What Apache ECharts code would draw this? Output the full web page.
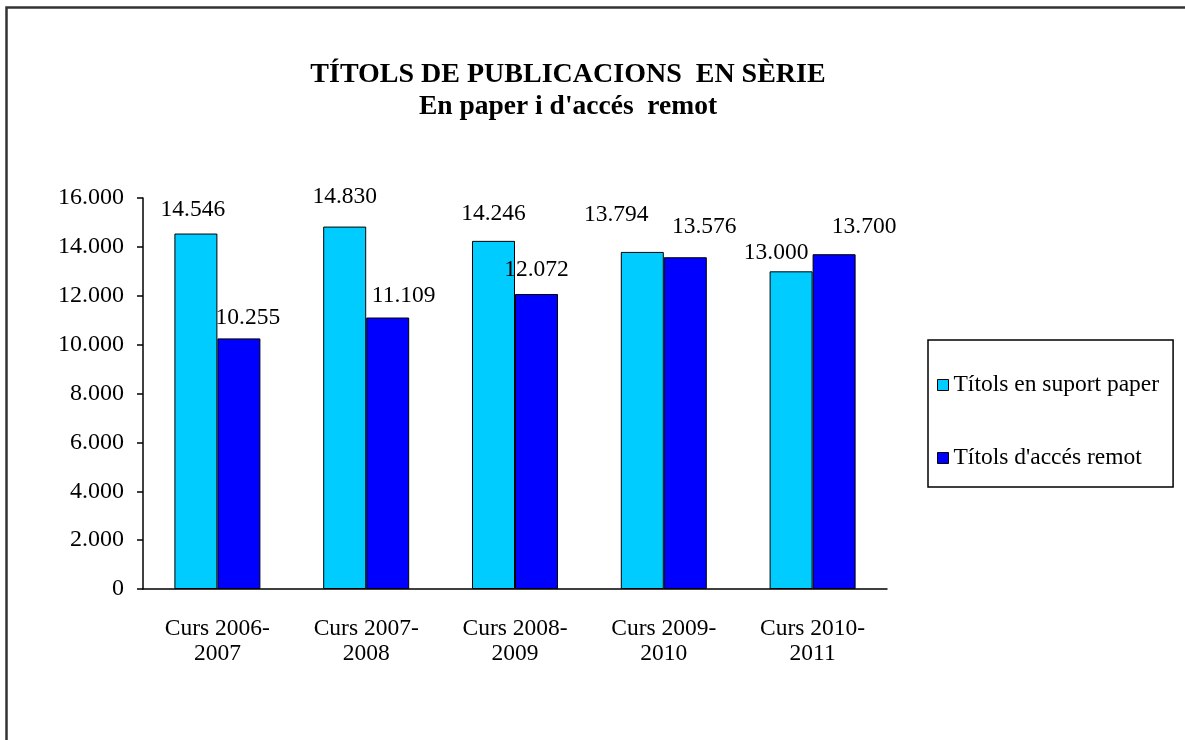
<!DOCTYPE html>
<html>
<head>
<meta charset="utf-8">
<script src="https://cdn.jsdelivr.net/npm/echarts@6/dist/echarts.min.js"></script>
<style>
    html, body { margin: 0; padding: 0; background: #fff; }
    #chart { width: 1185px; height: 740px; }
</style>
</head>
<body>
<div id="chart"></div>
<script>
    // dades llegides del gràfic
    const categories = ['Curs 2006-2007', 'Curs 2007-2008', 'Curs 2008-2009', 'Curs 2009-2010', 'Curs 2010-2011'];
    const paperValues = [14546, 14830, 14246, 13794, 13000];
    const remoteValues = [10255, 11109, 12072, 13576, 13700];
    const seriesNames = ['Títols en suport paper', "Títols d'accés remot"];
    const yTicks = [0, 2000, 4000, 6000, 8000, 10000, 12000, 14000, 16000];

    // petits desplaçaments de les etiquetes (col·locades a mà a l'original)
    const paperShift = [[-3, -7], [0, -13], [0, -10], [-26, -20], [-15, -1]];
    const remoteShift = [[9, -4], [16, -5], [0, -7], [19, -13], [30, -10]];

    const serif = '"Liberation Serif", "DejaVu Serif", serif';
    const fmt = v => String(v).replace(/\B(?=(\d{3})+(?!\d))/g, '.');

    function makeData(values, shift) {
        return values.map((v, i) => ({
            value: v,
            label: { offset: shift[i] }
        }));
    }

    let chart = echarts.init(document.getElementById('chart'));
    chart.setOption({
        backgroundColor: '#fff',
        animation: false,
        graphic: [{
            type: 'rect',
            shape: { x: 6.5, y: 7.5, width: 1400, height: 1000 },
            style: { fill: 'none', stroke: '#333', lineWidth: 2.5 },
            silent: true
        }],
        title: {
            text: 'TÍTOLS DE PUBLICACIONS  EN SÈRIE',
            subtext: "En paper i d'accés  remot",
            left: 563,
            top: 56,
            textAlign: 'center',
            itemGap: 4,
            textStyle: { fontFamily: serif, fontSize: 28, fontWeight: 'bold', color: '#000' },
            subtextStyle: { fontFamily: serif, fontSize: 27.5, fontWeight: 'bold', color: '#000' }
        },
        legend: {
            orient: 'vertical',
            left: 928,
            top: 340,
            data: seriesNames,
            icon: 'rect',
            itemWidth: 11,
            itemHeight: 11,
            itemGap: 49,
            padding: [33, 14, 17, 9],
            borderColor: '#000',
            borderWidth: 1.5,
            itemStyle: { borderColor: '#000', borderWidth: 1 },
            textStyle: { fontFamily: serif, fontSize: 23.5, color: '#000', padding: [0, 0, 0, 0] }
        },
        grid: {
            left: 143,
            right: 298,
            top: 198,
            bottom: 151
        },
        xAxis: {
            type: 'category',
            data: categories,
            axisLine: { lineStyle: { color: '#000', width: 1.5 } },
            axisTick: { show: false },
            axisLabel: {
                fontFamily: serif,
                fontSize: 23.5,
                color: '#000',
                margin: 27,
                lineHeight: 25,
                formatter: s => s.replace('-', '-\n')
            }
        },
        yAxis: {
            type: 'value',
            min: yTicks[0],
            max: yTicks[yTicks.length - 1],
            interval: yTicks[1] - yTicks[0],
            splitLine: { show: false },
            axisLine: { show: true, lineStyle: { color: '#000', width: 1.5 } },
            axisTick: { show: true, length: 6, lineStyle: { color: '#000', width: 1.5 } },
            axisLabel: {
                fontFamily: serif,
                fontSize: 24,
                color: '#000',
                margin: 19,
                formatter: fmt
            }
        },
        series: [
            {
                name: seriesNames[0],
                type: 'bar',
                barWidth: 43,
                barGap: '0%',
                itemStyle: { color: '#00CCFF', borderColor: '#000', borderWidth: 1 },
                label: {
                    show: true,
                    position: 'top',
                    distance: 5,
                    fontFamily: serif,
                    fontSize: 23.5,
                    color: '#000',
                    formatter: p => fmt(p.value)
                },
                data: makeData(paperValues, paperShift)
            },
            {
                name: seriesNames[1],
                type: 'bar',
                barWidth: 43,
                barGap: '0%',
                itemStyle: { color: '#0000FF', borderColor: '#000', borderWidth: 1 },
                label: {
                    show: true,
                    position: 'top',
                    distance: 5,
                    fontFamily: serif,
                    fontSize: 23.5,
                    color: '#000',
                    formatter: p => fmt(p.value)
                },
                data: makeData(remoteValues, remoteShift)
            }
        ]
    });
</script>
</body>
</html>
